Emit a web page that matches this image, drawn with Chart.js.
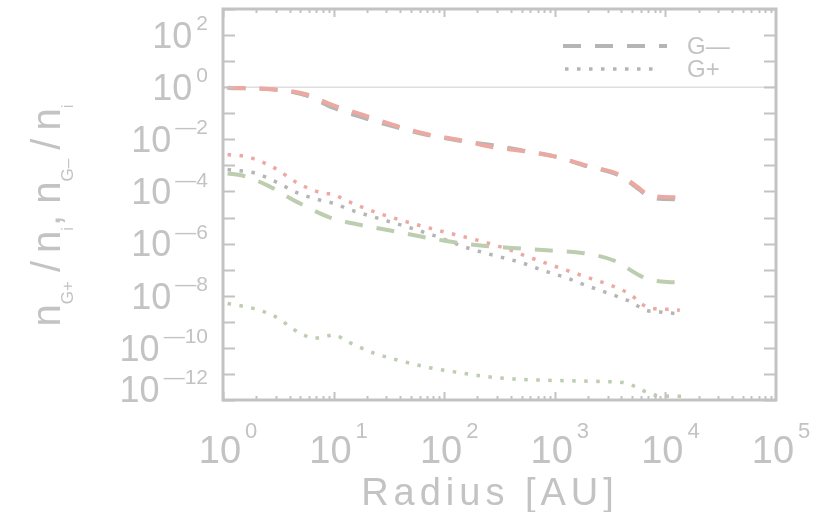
<!DOCTYPE html>
<html>
<head>
<meta charset="utf-8">
<script src="https://cdn.jsdelivr.net/npm/chart.js@4.4.1/dist/chart.umd.min.js"></script>
<style>
  html, body { margin: 0; padding: 0; background: #fff; }
  #wrap { width: 817px; height: 512px; }
</style>
</head>
<body>
<div id="wrap"><canvas id="chart" width="817" height="512"></canvas></div>
<script>
// tick labels (10^exp)
const xTickValues = [1, 10, 100, 1000, 10000, 100000]
const xTickExps   = ['0', '1', '2', '3', '4', '5']
const yTickValues = [1e2, 1e0, 1e-2, 1e-4, 1e-6, 1e-8, 1e-10, 1e-12]
const yTickExps   = ['2', '0', '\u20142', '\u20144', '\u20146', '\u20148', '\u201410', '\u201412']
const legendLabels = ['G\u2014', 'G+']

// reference line at unity
const unityX = [1, 100000]
const unityY = [1, 1]

// G- (dashed)
const redMinusX  = [1.1, 2.8, 5.5, 10, 19, 36, 69, 138, 275, 537, 1047, 1995, 3715, 5888, 6761, 8913, 14000]
const redMinusY  = [0.95, 0.83, 0.55, 0.2, 0.083, 0.034, 0.016, 0.0095, 0.005, 0.0035, 0.0021, 0.00095, 0.00047, 0.000126, 0.000079, 0.000063, 0.00006]
const greyMinusX = [1.1, 2.8, 5.5, 10, 19, 36, 69, 138, 275, 537, 1047, 1995, 3715, 5888, 6761, 8913, 14000]
const greyMinusY = [0.93, 0.81, 0.5, 0.16, 0.066, 0.030, 0.015, 0.0089, 0.006, 0.0036, 0.0021, 0.00089, 0.00043, 0.000112, 0.000072, 0.000052, 0.00005]
const greenMinusX = [1.1, 1.5, 2.6, 4.7, 9.3, 16.2, 30, 60, 112, 224, 457, 912, 1820, 3467, 5888, 7244, 11749, 14000]
const greenMinusY = [4.9e-4, 4.1e-4, 1.6e-4, 3.9e-5, 1.0e-5, 5.5e-6, 3.4e-6, 1.9e-6, 1.2e-6, 8.3e-7, 6.6e-7, 5.4e-7, 4.3e-7, 2.2e-7, 5.9e-8, 4.1e-8, 3.3e-8, 3.2e-8]

// G+ (dotted)
const redPlusX  = [1.1, 1.6, 2.0, 3.1, 4.4, 6.6, 8.5, 10, 12.3, 18.6, 24.5, 46, 91, 182, 372, 562, 871, 1380, 2138, 3388, 5012, 5888, 7244, 11482, 13500]
const redPlusY  = [2.6e-3, 2.2e-3, 1.66e-3, 6.9e-4, 2.5e-4, 1.1e-4, 8.3e-5, 7.8e-5, 5.0e-5, 2.4e-5, 1.55e-5, 6.8e-6, 3.1e-6, 1.5e-6, 6.2e-7, 3.2e-7, 1.66e-7, 8.5e-8, 4.5e-8, 2.3e-8, 1.0e-8, 5.4e-9, 3.4e-9, 2.95e-9, 2.8e-9]
const greyPlusX = [1.1, 2.0, 3.1, 4.7, 7.1, 10.7, 13.2, 21.4, 43, 79, 158, 372, 490, 794, 1230, 1862, 2951, 4571, 6761, 8913, 13490]
const greyPlusY = [6.9e-4, 4.9e-4, 2.2e-4, 8.9e-5, 5.0e-5, 3.2e-5, 2.2e-5, 1.15e-5, 4.8e-6, 2.1e-6, 7.1e-7, 2.6e-7, 1.9e-7, 9.1e-8, 5.1e-8, 2.6e-8, 1.3e-8, 6.6e-9, 2.75e-9, 2.4e-9, 2.0e-9]
const greenPlusX = [1.1, 1.9, 3.0, 4.4, 5.4, 6.6, 8.3, 10.2, 12.6, 15.5, 23.4, 37, 74, 148, 295, 646, 1288, 2754, 4467, 5495, 6761, 8318, 11749, 14125]
const greenPlusY = [5.0e-9, 3.2e-9, 1.55e-9, 5.0e-10, 3.1e-10, 2.3e-10, 2.7e-10, 3.2e-10, 2.0e-10, 1.3e-10, 6.2e-11, 3.5e-11, 1.74e-11, 1.07e-11, 7.2e-12, 5.9e-12, 5.5e-12, 5.1e-12, 4.5e-12, 3.0e-12, 2.0e-12, 1.5e-12, 1.4e-12, 1.4e-12]

const GREY = '#b5b5b5', RED = '#eba9a1', GREEN = '#bdcdaf'
const FG = '#c3c3c3'
const FONT = '"Liberation Sans", Arial, sans-serif'
const DASH = [18, 14], DOT = [3.5, 8.5]

const pts = (xs, ys) => xs.map((x, i) => ({ x, y: ys[i] }))

function line(data, color, dash, order) {
  return { data, borderColor: color, borderWidth: dash === DOT ? 3.5 : 4, borderDash: dash,
    borderCapStyle: 'butt', pointRadius: 0, cubicInterpolationMode: 'monotone', order, fill: false }
}

// superscript label: "10" with a raised exponent
function drawPow(ctx, exp, x, y, align, big, small, raise) {
  ctx.font = `${big}px ${FONT}`
  const wm = ctx.measureText('10').width
  ctx.font = `${small}px ${FONT}`
  const we = ctx.measureText(exp).width
  const gap = 4
  const total = wm + gap + we
  const x0 = align === 'right' ? x - total : x - total / 2
  const capM = big * 0.716
  ctx.textBaseline = 'alphabetic'
  ctx.textAlign = 'left'
  ctx.font = `${big}px ${FONT}`
  ctx.fillText('10', x0, y + capM / 2)
  ctx.font = `${small}px ${FONT}`
  ctx.fillText(exp, x0 + wm + gap, y - capM / 2 + raise)
}

const decor = {
  id: 'decor',
  afterDatasetsDraw(chart) {
    const { ctx, chartArea: a, scales: { x, y } } = chart
    ctx.save()
    ctx.strokeStyle = FG
    ctx.lineCap = 'butt'
    // ticks, inward
    ctx.lineWidth = 2
    ctx.beginPath()
    for (let e = 0; e < 5; e++) {
      for (let m = 1; m < 10; m++) {
        const px = Math.round(x.getPixelForValue(m * 10 ** e)) + 0.5
        const len = m === 1 ? 8 : 4
        ctx.moveTo(px, a.bottom); ctx.lineTo(px, a.bottom - len)
        ctx.moveTo(px, a.top); ctx.lineTo(px, a.top + len)
      }
    }
    for (let e = -12; e <= 3; e++) {
      const py = Math.round(y.getPixelForValue(10 ** e)) + 0.5
      ctx.moveTo(a.left, py); ctx.lineTo(a.left + 12, py)
      ctx.moveTo(a.right, py); ctx.lineTo(a.right - 12, py)
    }
    ctx.stroke()
    // frame
    ctx.lineWidth = 3
    ctx.strokeRect(a.left, a.top, a.right - a.left, a.bottom - a.top)
    ctx.restore()
  },
  afterDraw(chart) {
    const { ctx, chartArea: a, scales: { x, y } } = chart
    ctx.save()
    ctx.fillStyle = FG
    // x tick labels
    xTickValues.forEach((v, i) => {
      drawPow(ctx, xTickExps[i], x.getPixelForValue(v) + 5, 449, 'center', 38, 22, 3)
    })
    // y tick labels
    yTickValues.forEach((v, i) => {
      const py = Math.min(y.getPixelForValue(v), a.bottom - 11)
      drawPow(ctx, yTickExps[i], a.left - 15, py, 'right', 36, 21, 8)
    })
    // x title
    ctx.font = `38px ${FONT}`
    ctx.letterSpacing = '5px'
    ctx.textAlign = 'center'
    ctx.textBaseline = 'alphabetic'
    ctx.fillText('Radius [AU]', 490, 505)
    ctx.letterSpacing = '0px'

    // y title, rotated, with subscripts
    const parts = [['n', 0], ['G+', 1], ['\u2009/\u2009', 0], ['n', 0], ['i', 1], [', ', 0], ['n', 0], ['G\u2013', 1], ['\u2009/\u2009', 0], ['n', 0], ['i', 1]]
    const mainF = `40px ${FONT}`, subF = `17px ${FONT}`
    let w = 0
    parts.forEach(([t, s]) => { ctx.font = s ? subF : mainF; w += ctx.measureText(t).width + (s ? 1 : 0) })
    ctx.translate(60, 215)
    ctx.rotate(-Math.PI / 2)
    ctx.textAlign = 'left'
    let cx = -w / 2
    parts.forEach(([t, s]) => {
      ctx.font = s ? subF : mainF
      ctx.fillText(t, cx, s ? 13 : 0)
      cx += ctx.measureText(t).width + (s ? 1 : 0)
    })
    ctx.setTransform(1, 0, 0, 1, 0, 0)

    // legend
    const rows = [[DASH, 4, 563, 667, 46], [DOT, 3.5, 565, 661, 69]]
    rows.forEach(([dash, lw, x1, x2, ly], i) => {
      ctx.strokeStyle = GREY
      ctx.lineWidth = lw
      ctx.setLineDash(dash)
      ctx.beginPath(); ctx.moveTo(x1, ly); ctx.lineTo(x2, ly); ctx.stroke()
      ctx.setLineDash([])
      ctx.fillStyle = FG
      ctx.font = `24px ${FONT}`
      ctx.textBaseline = 'middle'
      ctx.fillText(legendLabels[i], 687, ly + 1)
    })
    ctx.restore()
  }
}

new Chart(document.getElementById('chart'), {
  type: 'line',
  data: {
    datasets: [
      line(pts(redMinusX, redMinusY), RED, DASH, 1),
      line(pts(greyMinusX, greyMinusY), GREY, DASH, 2),
      line(pts(greenMinusX, greenMinusY), GREEN, DASH, 1),
      line(pts(redPlusX, redPlusY), RED, DOT, 1),
      line(pts(greyPlusX, greyPlusY), GREY, DOT, 2),
      line(pts(greenPlusX, greenPlusY), GREEN, DOT, 1),
      { data: pts(unityX, unityY), borderColor: '#dedede', borderWidth: 1.5, pointRadius: 0, order: 10 },
    ],
  },
  options: {
    responsive: false,
    animation: false,
    layout: { padding: { left: 223, right: 41, top: 9, bottom: 112 } },
    plugins: { legend: { display: false }, tooltip: { enabled: false } },
    scales: {
      x: { type: 'logarithmic', min: 1, max: 100000, display: false },
      y: { type: 'logarithmic', min: 1e-12, max: 1e3, display: false },
    },
  },
  plugins: [decor],
})
</script>
</body>
</html>
